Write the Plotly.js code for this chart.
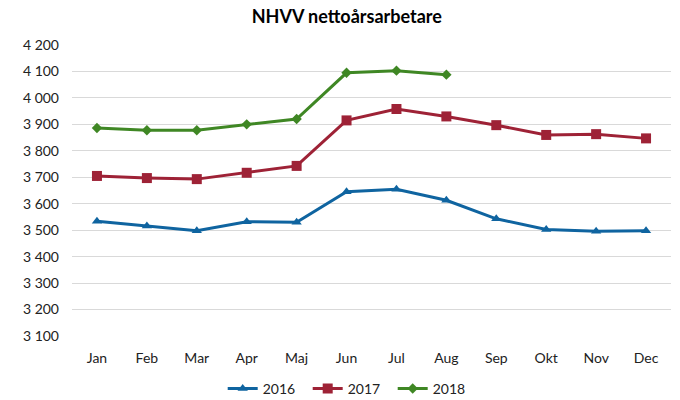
<!DOCTYPE html>
<html>
<head>
<meta charset="utf-8">
<script src="https://cdn.plot.ly/plotly-3.0.1.min.js"></script>
<style>html,body{margin:0;padding:0;background:#fff;}#chart{width:680px;height:400px;}</style>
</head>
<body>
<div id="chart"></div>
<script>
const months = ["Jan","Feb","Mar","Apr","Maj","Jun","Jul","Aug","Sep","Okt","Nov","Dec"];
const y2016 = [3534,3516,3498,3532,3530,3645,3655,3613,3543,3503,3496,3498];
const y2017 = [3705,3697,3693,3717,3743,3915,3958,3930,3897,3860,3863,3847];
const y2018 = [3886,3878,3878,3900,3920,4095,4103,4088];
const tickVals = [3100,3200,3300,3400,3500,3600,3700,3800,3900,4000,4100,4200];
const tickText = ["3 100","3 200","3 300","3 400","3 500","3 600","3 700","3 800","3 900","4 000","4 100","4 200"];

const font = "Lato, 'Open Sans', sans-serif";
const traces = [
  {x: months, y: y2016, name: "2016", mode: "lines+markers", type: "scatter",
   line: {color: "#0f64a0", width: 3}, marker: {symbol: "triangle-up", size: 9, color: "#0f64a0"}},
  {x: months, y: y2017, name: "2017", mode: "lines+markers", type: "scatter",
   line: {color: "#9e2236", width: 3}, marker: {symbol: "square", size: 10, color: "#9e2236"}},
  {x: months.slice(0, y2018.length), y: y2018, name: "2018", mode: "lines+markers", type: "scatter",
   line: {color: "#3f8724", width: 3}, marker: {symbol: "diamond", size: 8, color: "#3f8724"}}
];
const layout = {
  width: 680, height: 400,
  margin: {l: 72, r: 9, t: 45, b: 64, autoexpand: false},
  paper_bgcolor: "#fff", plot_bgcolor: "#fff",
  title: {text: "<b>NHVV nettoårsarbetare</b>", x: 0.51, xanchor: "center", y: 0.975, yanchor: "top",
          font: {family: font, size: 18, color: "#000"}},
  font: {family: font, size: 14, color: "#222"},
  xaxis: {type: "category", range: [-0.5, 11.5], showgrid: false, zeroline: false, showline: false,
          ticks: "", ticklabelstandoff: 12, tickfont: {family: font, size: 14, color: "#222"}, fixedrange: true},
  yaxis: {range: [3100, 4200], tickvals: tickVals, ticktext: tickText, showgrid: true,
          gridcolor: "#d9d9d9", gridwidth: 1, zeroline: false, showline: false, ticks: "",
          ticklabelstandoff: 12, tickfont: {family: font, size: 14, color: "#222"}, fixedrange: true},
  showlegend: true,
  legend: {orientation: "h", xref: "container", x: 0.515, xanchor: "center", y: -0.182, yanchor: "middle",
           itemwidth: 30, entrywidth: 40,
           font: {family: font, size: 14, color: "#222"}, tracegroupgap: 0}
};
Plotly.newPlot("chart", traces, layout, {displayModeBar: false, staticPlot: true});
</script>
</body>
</html>
